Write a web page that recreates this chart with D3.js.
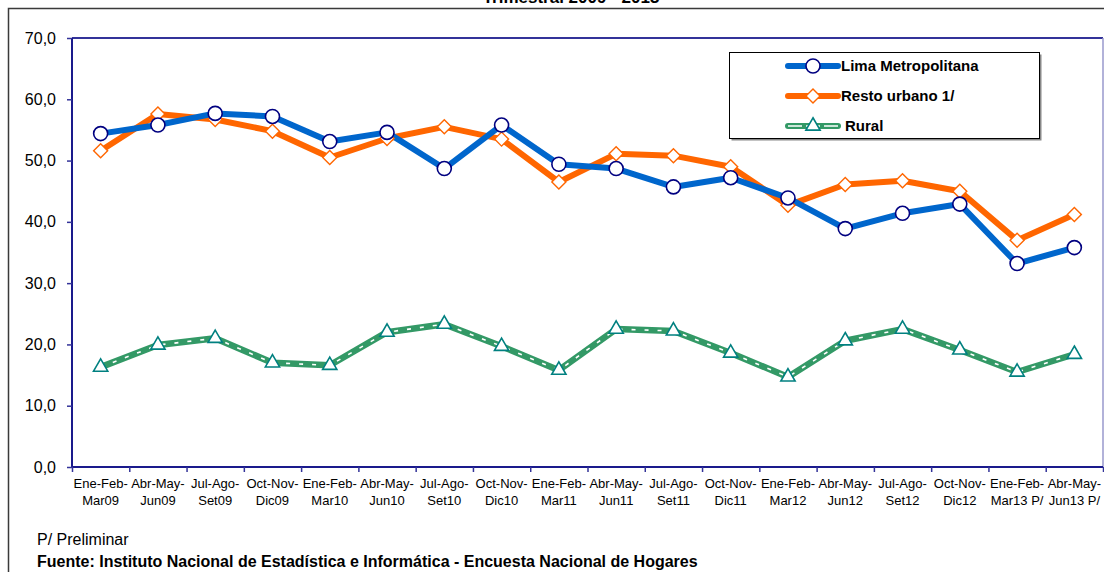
<!DOCTYPE html>
<html>
<head>
<meta charset="utf-8">
<script src="https://cdn.jsdelivr.net/npm/d3@7/dist/d3.min.js"></script>
<style>
	html, body { margin: 0; padding: 0; background: #fff; }
	svg { display: block; }
	.regular { font-family: "Liberation Sans", Arial, sans-serif; }
</style>
</head>
<body>
<div id="chart"></div>
<script>
(function() {
	"use strict";

	var labelTop = ['Ene-Feb-', 'Abr-May-', 'Jul-Ago-', 'Oct-Nov-', 'Ene-Feb-', 'Abr-May-', 'Jul-Ago-', 'Oct-Nov-', 'Ene-Feb-',
		'Abr-May-', 'Jul-Ago-', 'Oct-Nov-', 'Ene-Feb-', 'Abr-May-', 'Jul-Ago-', 'Oct-Nov-', 'Ene-Feb-', 'Abr-May-'];
	var labelBottom = ['Mar09', 'Jun09', 'Set09', 'Dic09', 'Mar10', 'Jun10', 'Set10', 'Dic10', 'Mar11',
		'Jun11', 'Set11', 'Dic11', 'Mar12', 'Jun12', 'Set12', 'Dic12', 'Mar13 P/', 'Jun13 P/'];
	var categories = labelTop.map(function (t, i) { return t + labelBottom[i]; });

	var lima = [54.4, 55.8, 57.7, 57.2, 53.1, 54.6, 48.7, 55.8, 49.4, 48.7, 45.7, 47.2, 43.9, 38.9, 41.4, 42.9, 33.2, 35.8];
	var restoUrbano = [51.6, 57.6, 56.7, 54.8, 50.5, 53.6, 55.5, 53.5, 46.5, 51.1, 50.8, 49.0, 42.7, 46.1, 46.7, 45.0, 37.0, 41.2];
	var rural = [16.3, 19.9, 21.0, 17.0, 16.6, 22.0, 23.3, 19.7, 15.8, 22.5, 22.2, 18.6, 14.7, 20.6, 22.5, 19.1, 15.5, 18.4];

	var yTicks = [0, 10, 20, 30, 40, 50, 60, 70];

	var seriesNames = ['Lima Metropolitana', 'Resto urbano 1/', 'Rural'];

	var width = 1104, height = 572;
	var plot = { left: 72, top: 38, right: 1103, bottom: 467 };

	var svg = d3.select('#chart')
		.append('svg')
		.attr('width', width)
		.attr('height', height);

	var x = d3.scaleBand().domain(categories).range([plot.left, plot.right]);
	var xEdges = d3.scaleLinear().domain([0, categories.length]).range([plot.left, plot.right]);
	var y = d3.scaleLinear().domain([0, 70]).range([plot.bottom, plot.top]);

	function cx(d, i) { return x(categories[i]) + x.bandwidth() / 2; }

	// outer chart border
	svg.append('rect')
		.attr('x', 8.5).attr('y', 8.5)
		.attr('width', width + 10).attr('height', height + 10)
		.attr('fill', 'none')
		.attr('stroke', '#3a3a3a')
		.attr('stroke-width', 1.5);

	// title, cut off at the top of the picture as in the original
	svg.append('text')
		.attr('class', 'regular')
		.attr('x', 571).attr('y', 3)
		.attr('text-anchor', 'middle')
		.style('font-size', '17px')
		.style('font-weight', 'bold')
		.text('Trimestral 2009 - 2013');

	// plot frame
	svg.append('line')
		.attr('x1', plot.left).attr('x2', plot.right)
		.attr('y1', plot.top).attr('y2', plot.top)
		.attr('stroke', '#333399').attr('stroke-width', 2);
	svg.append('line')
		.attr('x1', plot.right).attr('x2', plot.right)
		.attr('y1', plot.top).attr('y2', plot.bottom)
		.attr('stroke', '#9999cc').attr('stroke-width', 1.5);

	var yAxis = d3.axisLeft(y)
		.tickValues(yTicks)
		.tickSize(5)
		.tickPadding(11)
		.tickFormat(function (d) { return d.toFixed(1).replace('.', ','); });

	var gy = svg.append('g')
		.attr('transform', 'translate(' + plot.left + ',0)')
		.call(yAxis);
	gy.selectAll('line').attr('stroke', '#333399').attr('stroke-width', 1.5);
	gy.select('.domain').attr('stroke', '#1a1a8c').attr('stroke-width', 2).attr('d', 'M0,' + plot.top + 'V' + plot.bottom);
	gy.selectAll('text')
		.attr('class', 'regular')
		.style('font-size', '16px')
		.attr('fill', '#000');

	var xAxis = d3.axisBottom(xEdges)
		.tickValues(d3.range(categories.length + 1))
		.tickSize(5)
		.tickFormat('');

	var gx = svg.append('g')
		.attr('transform', 'translate(0,' + plot.bottom + ')')
		.call(xAxis);
	gx.selectAll('line').attr('stroke', '#333399').attr('stroke-width', 1.5);
	gx.select('.domain').attr('stroke', '#1a1a8c').attr('stroke-width', 2).attr('d', 'M' + plot.left + ',0H' + plot.right);

	var labels = svg.append('g')
		.selectAll('text')
		.data(categories)
		.enter()
		.append('text')
		.attr('class', 'regular')
		.attr('text-anchor', 'middle')
		.style('font-size', '13px')
		.attr('transform', function (d) { return 'translate(' + (x(d) + x.bandwidth() / 2) + ',' + (plot.bottom + 21) + ')'; });
	labels.append('tspan').attr('x', 0).attr('y', 0).text(function (d, i) { return labelTop[i]; });
	labels.append('tspan').attr('x', 0).attr('y', 17).text(function (d, i) { return labelBottom[i]; });

	var line = d3.line()
		.x(cx)
		.y(function (d) { return y(d); });

	var diamond = d3.symbol().type(d3.symbolSquare).size(98);
	var triangle = d3.symbol().type(d3.symbolTriangle).size(88);

	drawRural(svg.append('g'), rural);
	drawSeries(svg.append('g'), restoUrbano, '#ff6600');
	drawSeries(svg.append('g'), lima, '#0066cc');

	drawMarkers(svg.append('g'), rural, 'triangle');
	drawMarkers(svg.append('g'), restoUrbano, 'diamond');
	drawMarkers(svg.append('g'), lima, 'circle');

	renderLegend(svg.append('g'));

	// footnotes
	svg.append('text')
		.attr('class', 'regular')
		.attr('x', 37).attr('y', 545)
		.style('font-size', '16px')
		.text('P/ Preliminar');
	svg.append('text')
		.attr('class', 'regular')
		.attr('x', 37).attr('y', 567)
		.style('font-size', '16px')
		.style('font-weight', 'bold')
		.text('Fuente: Instituto Nacional de Estadística e Informática - Encuesta Nacional de Hogares');

	function drawSeries(g, values, color) {
		g.append('path')
			.datum(values)
			.attr('d', line)
			.attr('fill', 'none')
			.attr('stroke', color)
			.attr('stroke-width', 6)
			.attr('stroke-linejoin', 'round');
	}

	function drawRural(g, values) {
		g.append('path')
			.datum(values)
			.attr('d', line)
			.attr('fill', 'none')
			.attr('stroke', '#339966')
			.attr('stroke-width', 6.5)
			.attr('stroke-linejoin', 'round');
		g.append('path')
			.datum(values)
			.attr('d', line)
			.attr('fill', 'none')
			.attr('stroke', '#fff')
			.attr('stroke-width', 1.6)
			.attr('stroke-dasharray', '4,9');
	}

	function drawMarkers(g, values, kind) {
		var sel = g.selectAll('.m')
			.data(values)
			.enter();
		markerShape(sel, kind, cx, function (d) { return y(d); });
	}

	function markerShape(sel, kind, fx, fy) {
		if (kind === 'circle') {
			return sel.append('circle')
				.attr('cx', fx).attr('cy', fy)
				.attr('r', 7)
				.attr('fill', '#fff')
				.attr('stroke', '#000080')
				.attr('stroke-width', 1.6);
		}
		if (kind === 'diamond') {
			return sel.append('path')
				.attr('d', diamond)
				.attr('transform', function (d, i) { return 'translate(' + fx(d, i) + ',' + fy(d, i) + ') rotate(45)'; })
				.attr('fill', '#fff')
				.attr('stroke', '#ff6600')
				.attr('stroke-width', 1.4);
		}
		return sel.append('path')
			.attr('d', triangle)
			.attr('transform', function (d, i) { return 'translate(' + fx(d, i) + ',' + fy(d, i) + ')'; })
			.attr('fill', '#fff')
			.attr('stroke', '#008080')
			.attr('stroke-width', 1.6);
	}

	function renderLegend(g) {
		var box = { x: 729.5, y: 52.5, w: 310, h: 86 };
		g.append('rect')
			.attr('x', box.x + 2).attr('y', box.y + 2)
			.attr('width', box.w).attr('height', box.h)
			.attr('fill', '#888');
		g.append('rect')
			.attr('x', box.x).attr('y', box.y)
			.attr('width', box.w).attr('height', box.h)
			.attr('fill', '#fff')
			.attr('stroke', '#000')
			.attr('stroke-width', 1);

		var rows = [
			{ name: seriesNames[0], color: '#0066cc', kind: 'circle', ty: 66, tx: 841 },
			{ name: seriesNames[1], color: '#ff6600', kind: 'diamond', ty: 96, tx: 841 },
			{ name: seriesNames[2], color: '#339966', kind: 'triangle', ty: 126, tx: 845 }
		];

		rows.forEach(function (r) {
			g.append('line')
				.attr('x1', 788).attr('x2', 838)
				.attr('y1', r.ty).attr('y2', r.ty)
				.attr('stroke', r.color)
				.attr('stroke-width', 6)
				.attr('stroke-linecap', 'round');
			if (r.kind === 'triangle') {
				g.append('line')
					.attr('x1', 788).attr('x2', 838)
					.attr('y1', r.ty).attr('y2', r.ty)
					.attr('stroke', '#fff')
					.attr('stroke-width', 1.6)
					.attr('stroke-dasharray', '14,4');
			}
			markerShape(g.selectAll('.lm').data([0]).enter(), r.kind,
				function () { return 813; }, function () { return r.ty; });
			g.append('text')
				.attr('class', 'regular')
				.attr('x', r.tx).attr('y', r.ty + 5)
				.style('font-size', '15px')
				.style('font-weight', 'bold')
				.text(r.name);
		});
	}
}());
</script>
</body>
</html>
